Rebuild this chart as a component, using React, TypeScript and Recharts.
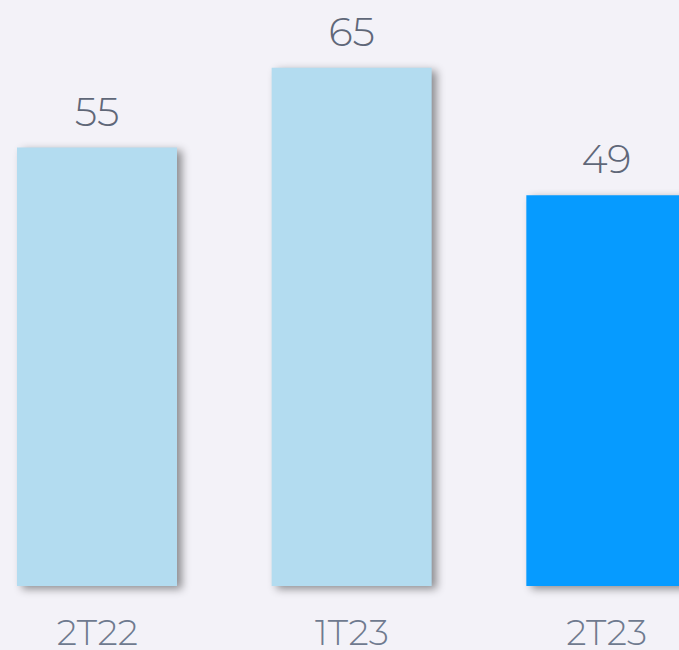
import { Bar, BarChart, Cell, LabelList, XAxis, YAxis } from 'recharts'

const periods = ['2T22', '1T23', '2T23']
const values = [55, 65, 49]
const barColors = ['#b3dcf0', '#b3dcf0', '#069bff']

const data = periods.map((period, i) => ({ period, value: values[i] }))

const textFont = 'Montserrat, "Open Sans", Lato, sans-serif'

export default function App() {
  return (
    <div
      style={{
        position: 'fixed',
        left: 0,
        top: 0,
        width: 679,
        height: 650,
        overflow: 'hidden',
        background: '#f3f2f8',
      }}
    >
      <div style={{ position: 'absolute', left: -30, top: 0 }}>
        <BarChart
          width={764}
          height={650}
          data={data}
          margin={{ top: 4, right: 0, left: 0, bottom: 0 }}
          barSize={160}
        >
          <XAxis
            dataKey="period"
            height={64}
            axisLine={false}
            tickLine={false}
            tickMargin={27}
            tick={{ fontSize: 36, fill: '#6f7a8f', fontFamily: textFont, fontWeight: 300 }}
          />
          <YAxis hide domain={[0, 73]} />
          <Bar dataKey="value" isAnimationActive={false}>
            {data.map((entry, i) => (
              <Cell
                key={entry.period}
                fill={barColors[i]}
                style={{ filter: 'drop-shadow(5px 3px 4px rgba(0,0,0,0.42))' }}
              />
            ))}
            <LabelList
              dataKey="value"
              position="top"
              offset={22}
              style={{ fontSize: 40, fill: '#5f6778', fontFamily: textFont, fontWeight: 300 }}
            />
          </Bar>
        </BarChart>
      </div>
    </div>
  )
}
